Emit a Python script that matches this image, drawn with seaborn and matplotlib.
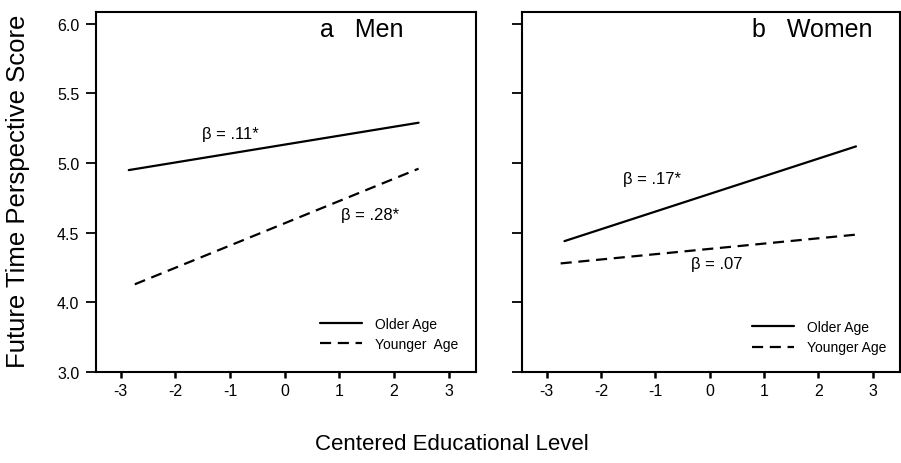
import matplotlib
matplotlib.use("Agg")
import matplotlib.pyplot as plt
import seaborn as sns
import pandas as pd

sns.set_style("ticks")
plt.rcParams['font.family'] = ['Liberation Sans', 'DejaVu Sans']
plt.rcParams['text.color'] = 'black'
plt.rcParams['xtick.color'] = 'black'
plt.rcParams['ytick.color'] = 'black'
plt.rcParams['axes.labelcolor'] = 'black'

# Data (endpoints of simple-slope lines)
groups = ["Older Age", "Younger Age"]
men_x = {"Older Age": [-2.85, 2.45], "Younger Age": [-2.74, 2.45]}
men_y = {"Older Age": [4.95, 5.29], "Younger Age": [4.13, 4.96]}
women_x = {"Older Age": [-2.67, 2.69], "Younger Age": [-2.74, 2.78]}
women_y = {"Older Age": [4.44, 5.12], "Younger Age": [4.28, 4.49]}

men_betas = ["β = .11*", "β = .28*"]
men_beta_pos = [(-0.99, 5.21), (1.57, 4.63)]
women_betas = ["β = .17*", "β = .07"]
women_beta_pos = [(-1.06, 4.89), (0.13, 4.28)]

ytick_pos = [3.5, 4.0, 4.5, 5.0, 5.5, 6.0]
ytick_labels = ["3.0", "4.0", "4.5", "5.0", "5.5", "6.0"]
xticks = [-3, -2, -1, 0, 1, 2, 3]


def to_df(xd, yd):
    rows = []
    for g in groups:
        for xv, yv in zip(xd[g], yd[g]):
            rows.append({"x": xv, "y": yv, "group": g})
    return pd.DataFrame(rows)


fig = plt.figure(figsize=(9.01, 4.64), dpi=100)
ax1 = fig.add_axes([0.1065, 0.196, 0.4218, 0.776])
ax2 = fig.add_axes([0.5794, 0.196, 0.4195, 0.776])

dashes = {"Older Age": "", "Younger Age": (5, 3)}

panels = [
    (ax1, men_x, men_y, men_betas, men_beta_pos, "a   Men", ["Older Age", "Younger  Age"], 0.59, (0.589, 0.153)),
    (ax2, women_x, women_y, women_betas, women_beta_pos, "b   Women", ["Older Age", "Younger Age"], 0.608, (0.608, 0.144)),
]

for ax, xd, yd, betas, bpos, title, legname, tx, legpos in panels:
    df = to_df(xd, yd)
    sns.lineplot(data=df, x="x", y="y", style="group", dashes=dashes,
                 color="black", linewidth=1.6, ax=ax, legend=False)
    ax.set_xlim(-3.45, 3.5)
    ax.set_ylim(3.5, 6.085)
    ax.set_xticks(xticks)
    ax.set_xticklabels([str(t) for t in xticks], fontsize=11.5)
    ax.set_yticks(ytick_pos)
    ax.set_xlabel("")
    ax.set_ylabel("")
    for s in ax.spines.values():
        s.set_linewidth(1.5)
        s.set_color("black")
    ax.tick_params(axis="x", direction="out", length=4, width=1.8, colors="black", labelsize=11.5, pad=4)
    ax.tick_params(axis="y", direction="out", length=7, width=1.3, colors="black", labelsize=11.5, pad=5)
    for t, (bx, by) in zip(betas, bpos):
        ax.text(bx, by, t, ha="center", va="center", fontsize=12)
    ax.text(tx, 0.953, title, transform=ax.transAxes, ha="left", va="center", fontsize=18)
    handles = ax.get_lines()[:2]
    ax.legend(handles, legname, loc="upper left", bbox_to_anchor=legpos,
              frameon=False, fontsize=10, handlelength=3.06, handletextpad=0.9,
              labelspacing=0.45, borderpad=0, borderaxespad=0)

ax1.set_yticklabels(ytick_labels, fontsize=11.5)
ax2.set_yticklabels([])

fig.text(0.02, 0.588, "Future Time Perspective Score", rotation=90, ha="center", va="center", fontsize=18.5)
fig.text(0.502, 0.041, "Centered Educational Level", ha="center", va="center", fontsize=16)

fig.savefig("out.png", dpi=100)
